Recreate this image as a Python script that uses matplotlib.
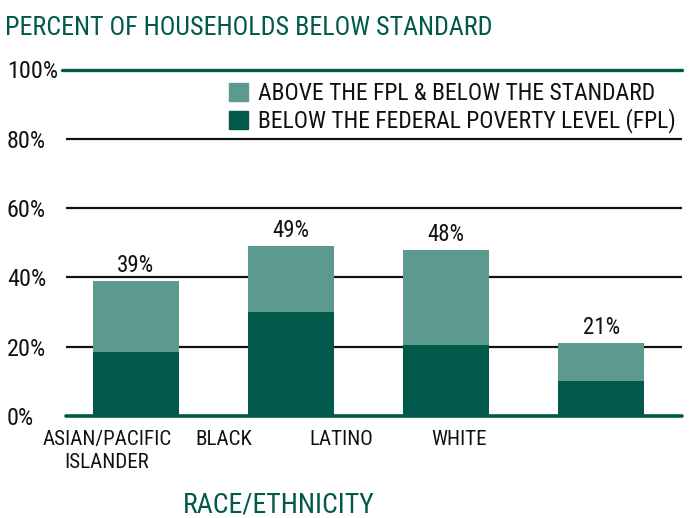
import numpy as np
import matplotlib
matplotlib.use("Agg")
import matplotlib.pyplot as plt
from matplotlib import font_manager
from matplotlib.patches import Patch

# the original uses a narrow humanist face; take the narrowest one we have
have = {f.name for f in font_manager.fontManager.ttflist}
for fam in ["Roboto Condensed", "Open Sans Condensed", "Liberation Sans Narrow",
            "DejaVu Sans Condensed", "Ubuntu Condensed", "Liberation Sans"]:
    if fam in have:
        break
plt.rcParams['font.family'] = [fam, 'DejaVu Sans']

# data
groups = ["ASIAN/PACIFIC\nISLANDER", "BLACK", "LATINO", "WHITE"]
below_fpl = [18.5, 30.0, 20.5, 10.0]
total_below_standard = [39, 49, 48, 21]
above_fpl = [t - b for t, b in zip(total_below_standard, below_fpl)]
series_names = ["ABOVE THE FPL & BELOW THE STANDARD",
                "BELOW THE FEDERAL POVERTY LEVEL (FPL)"]
y_ticks = [0, 20, 40, 60, 80, 100]
title_str = "PERCENT OF HOUSEHOLDS BELOW STANDARD"
xlabel_str = "RACE/ETHNICITY"

dark = "#00594a"
light = "#5c9a90"
ink = "#111111"

fig = plt.figure(figsize=(6.9, 5.18), dpi=100)
W, H = 690, 518
renderer = fig.canvas.get_renderer()


def size_for(s, target_px, ref=20.0):
    # font size that makes s as wide as in the original picture
    t = fig.text(0, 0, s, fontsize=ref)
    w = t.get_window_extent(renderer).width
    t.remove()
    return ref * target_px / w


fs_title = size_for(title_str, 487)
fs_xlabel = size_for(xlabel_str, 192)
fs_ytick = size_for("100%", 51)
fs_xtick = size_for("BLACK", 57)
fs_value = size_for("39%", 37)
fs_legend = size_for(series_names[0], 397)
leg_px = fs_legend * 100 / 72

ax = fig.add_axes([66 / W, (H - 416) / H, (682 - 66) / W, (416 - 69.5) / H])

x = np.arange(len(groups))
ax.bar(x, below_fpl, width=0.555, color=dark, zorder=3)
ax.bar(x, above_fpl, width=0.555, bottom=below_fpl, color=light, zorder=3)

for xi, t in zip(x, total_below_standard):
    ax.annotate(f"{t}%", (xi, t), xytext=(0, 3), textcoords="offset points",
                ha="center", va="bottom", fontsize=fs_value, color=ink)

ax.set_xlim(-0.45, 3.52)
ax.set_ylim(0, 100)

# gridlines
for v in y_ticks[1:-1]:
    ax.axhline(v, color=ink, lw=1.6, zorder=1)
ax.axhline(100, color=dark, lw=2.4, zorder=2, xmin=-0.006, clip_on=False,
           solid_capstyle="round")
ax.axhline(0, color=dark, lw=2.6, zorder=4, clip_on=False, solid_capstyle="round")

for s in ax.spines.values():
    s.set_visible(False)

ax.set_yticks(y_ticks)
ax.set_yticklabels([f"{v}%" for v in y_ticks], ha="left", fontsize=fs_ytick, color=ink)
ax.tick_params(axis="y", length=0, pad=42.5)

# category labels sit left of the bars in the original
label_x = np.arange(len(groups)) * 0.755 - 0.185
ax.set_xticks(label_x)
ax.set_xticklabels(groups, color=ink, fontsize=fs_xtick, linespacing=1.25)
ax.tick_params(axis="x", length=0, pad=10)

fig.text(5 / W, 1 - 35 / H, title_str, color=dark, fontsize=fs_title,
         ha="left", va="baseline")
fig.text(279 / W, 1 - 513 / H, xlabel_str, color=dark, fontsize=fs_xlabel,
         ha="center", va="baseline")

handles = [Patch(color=light), Patch(color=dark)]
leg = ax.legend(handles, series_names, loc="upper left", bbox_to_anchor=(229 / W, 1 - 82 / H),
                bbox_transform=fig.transFigure, frameon=False, fontsize=fs_legend,
                handlelength=19 / leg_px, handleheight=19 / leg_px,
                handletextpad=10 / leg_px,
                labelspacing=0.15, borderpad=0, borderaxespad=0)
for t in leg.get_texts():
    t.set_color(ink)

fig.savefig("out.png", dpi=100)
